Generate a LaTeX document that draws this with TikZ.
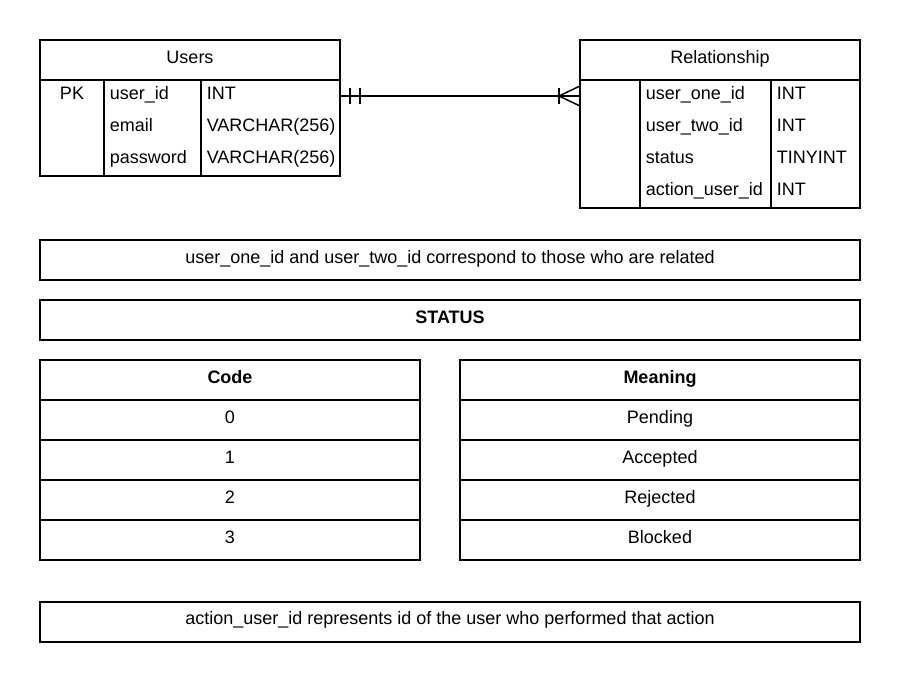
\documentclass[tikz,border=0pt]{standalone}
\usepackage{fontspec}
\setmainfont{Liberation Sans}
\usetikzlibrary{positioning}
\tikzstyle{every node}=[inner sep=0pt, font=\fontsize{18}{21}\selectfont]
\tikzstyle{cell}=[anchor=base west]
\tikzstyle{mid}=[anchor=base]

\begin{document}
\begin{tikzpicture}[x=1pt, y=-1pt, line width=1.5pt, black]
\useasboundingbox (0,0) rectangle (900,682);
% Users table
    \draw (40,40) rectangle (340,176);
    \draw (40,80) -- (340,80);
    \draw (104,80) -- (104,176);
    \draw (201,80) -- (201,176);
  \node[mid] (usrhead) at (190,63.5) {Users};
  \node[mid] (usrpk) at (72,100) {PK};
  \node[cell] (usrid) at (109,100) {user\_id};
  \node[cell] (usremail) at (109,132) {email};
  \node[cell] (usrpass) at (109,164) {password};
  \node[cell] (usridtype) at (206,100) {INT};
  \node[cell] (usremailtype) at (206,132) {VARCHAR(256)};
  \node[cell] (usrpasstype) at (206,164) {VARCHAR(256)};
% Relationship table
    \draw (580,40) rectangle (860,208);
    \draw (580,80) -- (860,80);
    \draw (640,80) -- (640,208);
    \draw (771,80) -- (771,208);
  \node[mid] (relhead) at (720,63.5) {Relationship};
  \node[cell] (relone) at (645,100) {user\_one\_id};
  \node[cell] (reltwo) at (645,132) {user\_two\_id};
  \node[cell] (relstatus) at (645,164) {status};
  \node[cell] (relaction) at (645,196) {action\_user\_id};
  \node[cell] (relonetype) at (776,100) {INT};
  \node[cell] (reltwotype) at (776,132) {INT};
  \node[cell] (relstatustype) at (776,164) {TINYINT};
  \node[cell] (relactiontype) at (776,196) {INT};
% One-to-many connector
  \coordinate (usrport) at (340,96);
  \coordinate (relport) at (580,96);
    \draw (usrport) -- (relport);
    \draw ([xshift=10]usrport) ++(0,-8) -- ++(0,16);
    \draw ([xshift=20]usrport) ++(0,-8) -- ++(0,16);
    \draw ([xshift=-21]relport) ++(0,-8) -- ++(0,16);
    \draw ([xshift=-21]relport) -- ++(21,-10);
    \draw ([xshift=-21]relport) -- ++(21,10);
% Notes
    \draw (40,240) rectangle (860,280);
  \node[mid] (noteids) at (450,263.5) {user\_one\_id and user\_two\_id correspond to those who are related};
    \draw (40,300) rectangle (860,340);
  \node[mid] (statushead) at (450,323.5) {\bfseries STATUS};
% Code column
    \draw (40,360) rectangle (420,560);
    \draw (40,400) -- (420,400);
    \draw (40,440) -- (420,440);
    \draw (40,480) -- (420,480);
    \draw (40,520) -- (420,520);
  \node[mid] (codehead) at (230,383.5) {\bfseries Code};
  \node[mid] (codezero) at (230,423.5) {0};
  \node[mid] (codeone) at (230,463.5) {1};
  \node[mid] (codetwo) at (230,503.5) {2};
  \node[mid] (codethree) at (230,543.5) {3};
% Meaning column
    \draw (460,360) rectangle (860,560);
    \draw (460,400) -- (860,400);
    \draw (460,440) -- (860,440);
    \draw (460,480) -- (860,480);
    \draw (460,520) -- (860,520);
  \node[mid] (meanhead) at (660,383.5) {\bfseries Meaning};
  \node[mid] (meanpending) at (660,423.5) {Pending};
  \node[mid] (meanaccepted) at (660,463.5) {Accepted};
  \node[mid] (meanrejected) at (660,503.5) {Rejected};
  \node[mid] (meanblocked) at (660,543.5) {Blocked};
% Bottom note
    \draw (40,602) rectangle (860,642);
  \node[mid] (noteaction) at (450,624.5) {action\_user\_id represents id of the user who performed that action};

\end{tikzpicture}
\end{document}
